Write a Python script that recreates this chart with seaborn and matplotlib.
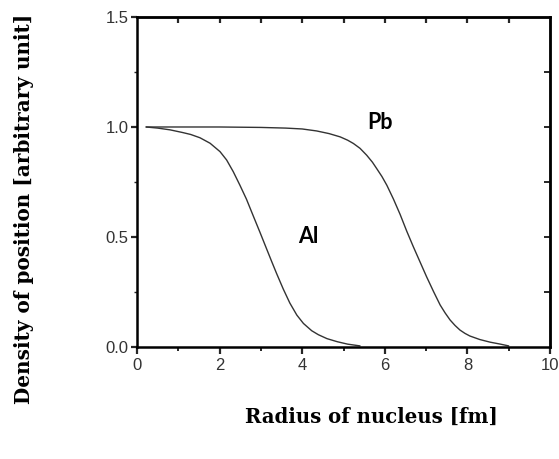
import numpy as np
import pandas as pd
import seaborn as sns
import matplotlib.pyplot as plt
from matplotlib.ticker import MultipleLocator

# Values
AL_RADIUS = [0.22, 0.5, 0.8, 1.1, 1.3, 1.525, 1.77, 2.01, 2.17, 2.33, 2.49, 2.65,
             2.81, 2.98, 3.14, 3.26, 3.38, 3.54, 3.70, 3.87, 4.03, 4.23, 4.39,
             4.6, 4.85, 5.1, 5.4]
AL_DENSITY = [1.0, 0.995, 0.987, 0.975, 0.966, 0.951, 0.926, 0.888, 0.85, 0.797,
              0.736, 0.672, 0.598, 0.52, 0.445, 0.389, 0.334, 0.264, 0.200, 0.145,
              0.107, 0.074, 0.056, 0.038, 0.024, 0.013, 0.005]

PB_RADIUS = [0.22, 1.0, 2.0, 3.0, 3.6, 4.0, 4.35, 4.65, 4.92, 5.1, 5.24, 5.4, 5.56,
             5.7, 5.8, 5.93, 6.05, 6.21, 6.37, 6.53, 6.69, 6.85, 7.01, 7.18, 7.34,
             7.46, 7.58, 7.7, 7.82, 7.94, 8.06, 8.3, 8.55, 8.8, 9.0]
PB_DENSITY = [1.0, 1.0, 1.0, 0.998, 0.995, 0.991, 0.982, 0.97, 0.955, 0.94, 0.925,
              0.903, 0.872, 0.84, 0.812, 0.775, 0.735, 0.672, 0.603, 0.527, 0.456,
              0.388, 0.32, 0.252, 0.191, 0.155, 0.123, 0.098, 0.077, 0.062, 0.05,
              0.034, 0.022, 0.013, 0.005]

X_TICKS = [0, 2, 4, 6, 8, 10]
Y_TICKS = [0.0, 0.5, 1.0, 1.5]
Y_TICK_LABELS = ["0.0", "0.5", "1.0", "1.5"]


def main() -> None:
    sns.set_style("ticks")
    fig = plt.figure(figsize=(5.59, 4.59), dpi=100)
    ax = fig.add_axes([0.2451, 0.244, 0.7388, 0.719])

    line_color = "#333333"
    sns.lineplot(x=AL_RADIUS, y=AL_DENSITY, ax=ax, color=line_color, linewidth=1.0,
                 sort=False, estimator=None)
    sns.lineplot(x=PB_RADIUS, y=PB_DENSITY, ax=ax, color=line_color, linewidth=1.0,
                 sort=False, estimator=None)

    ax.set_xlim(0, 10)
    ax.set_ylim(0, 1.5)
    ax.set_xticks(X_TICKS)
    ax.set_xticklabels([str(t) for t in X_TICKS])
    ax.set_yticks(Y_TICKS)
    ax.set_yticklabels(Y_TICK_LABELS)
    ax.xaxis.set_minor_locator(MultipleLocator(1))
    ax.yaxis.set_minor_locator(MultipleLocator(0.25))

    for lab in ax.get_xticklabels() + ax.get_yticklabels():
        lab.set_fontfamily("Liberation Sans")
        lab.set_fontsize(12)
        lab.set_color("#333333")

    ax.tick_params(axis="x", which="major", direction="out", length=5, width=1.6, pad=3)
    ax.tick_params(axis="x", which="minor", direction="out", length=3, width=1.4)
    ax.tick_params(axis="y", which="major", direction="out", length=4, width=1.6, pad=2)
    ax.tick_params(axis="y", which="minor", direction="out", length=2, width=1.0)

    for side in ["left", "bottom", "top", "right"]:
        ax.spines[side].set_visible(True)
        ax.spines[side].set_linewidth(1.8)
        ax.spines[side].set_color("black")

    # inward ticks along top and right
    top = ax.secondary_xaxis("top")
    top.set_xticks(range(1, 10))
    top.tick_params(direction="in", length=4.5, width=1.6, labeltop=False)
    top.spines["top"].set_linewidth(1.8)
    right = ax.secondary_yaxis("right")
    right.set_yticks([0.25, 0.5, 0.75, 1.0, 1.25])
    right.tick_params(direction="in", length=4, width=1.4, labelright=False)
    right.spines["right"].set_linewidth(1.8)

    ax.set_xlabel("")
    ax.set_ylabel("")

    ax.text(5.88, 1.02, "Pb", fontfamily="Lato", fontweight="bold", fontsize=15.5,
            ha="center", va="center", color="black")
    ax.text(4.14, 0.50, "Al", fontfamily="Lato", fontweight="bold", fontsize=15.5,
            ha="center", va="center", color="black")

    fig.text(0.665, 0.0915, "Radius of nucleus [fm]", fontfamily="DejaVu Serif",
             fontweight="bold", fontsize=14.2, ha="center", va="center", color="black")
    fig.text(0.043, 0.545, "Density of position [arbitrary unit]", fontfamily="DejaVu Serif",
             fontweight="bold", fontsize=14.4, ha="center", va="center", rotation=90,
             color="black")

    fig.savefig("out.png", dpi=100)


if __name__ == "__main__":
    main()
